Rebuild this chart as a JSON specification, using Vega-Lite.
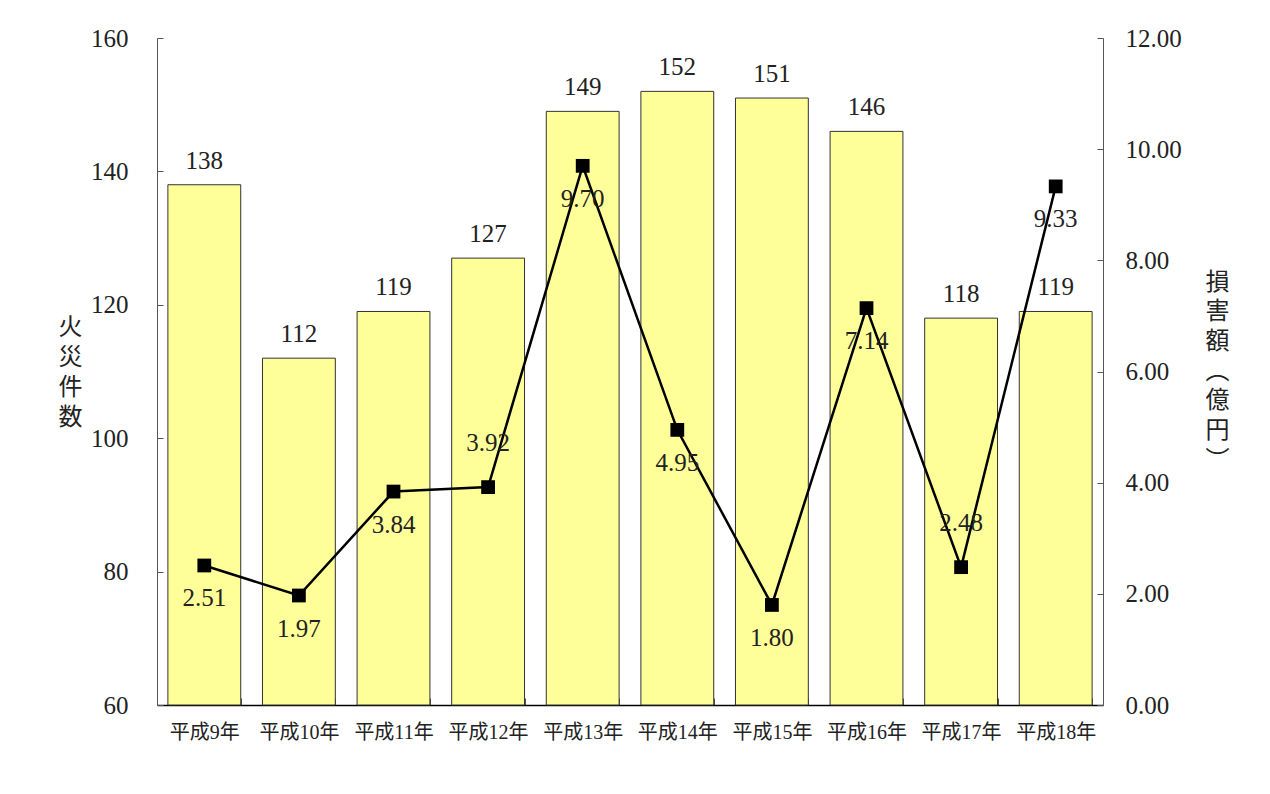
{
  "$schema": "https://vega.github.io/schema/vega-lite/v6.json",
  "autosize": "none",
  "width": 946,
  "height": 667,
  "padding": {"left": 157, "top": 38, "right": 167, "bottom": 89},
  "background": "white",
  "config": {
    "view": {"stroke": null},
    "font": "Liberation Serif, Noto Sans CJK JP",
    "axis": {"labelColor": "#222", "titleColor": "#222", "grid": false, "domainColor": "#555", "tickColor": "#555"}
  },
  "data": {
    "values": [
      {"year": "平成9年", "fires": 138, "damage": 2.51},
      {"year": "平成10年", "fires": 112, "damage": 1.97},
      {"year": "平成11年", "fires": 119, "damage": 3.84},
      {"year": "平成12年", "fires": 127, "damage": 3.92},
      {"year": "平成13年", "fires": 149, "damage": 9.70},
      {"year": "平成14年", "fires": 152, "damage": 4.95},
      {"year": "平成15年", "fires": 151, "damage": 1.80},
      {"year": "平成16年", "fires": 146, "damage": 7.14},
      {"year": "平成17年", "fires": 118, "damage": 2.48},
      {"year": "平成18年", "fires": 119, "damage": 9.33}
    ]
  },
  "encoding": {
    "x": {
      "field": "year", "type": "nominal", "sort": null,
      "scale": {"paddingInner": 0.23, "paddingOuter": 0.115},
      "axis": {
        "title": null, "labelAngle": 0, "labelFontSize": 20, "labelPadding": 24,
        "tickSize": -7, "tickBand": "extent", "domainColor": "#000", "domainWidth": 1.5,
        "tickColor": "#555", "labelFont": "Liberation Serif, Noto Sans CJK JP"
      }
    }
  },
  "layer": [
    {
      "layer": [
        {
          "mark": {"type": "bar", "fill": "#FFFF99", "stroke": "#333", "strokeWidth": 1},
          "encoding": {
            "y": {
              "field": "fires", "type": "quantitative",
              "scale": {"domain": [60, 160], "zero": false, "nice": false},
              "axis": {
                "title": ["火", "災", "件", "数"], "titleAngle": 0, "titleFontSize": 24, "titleFontWeight": "normal",
                "titleLineHeight": 30, "titleAlign": "center", "titleBaseline": "middle", "titleX": -87, "titleY": 289,
                "values": [60, 80, 100, 120, 140, 160], "labelFontSize": 25, "labelPadding": 35, "tickSize": -6
              }
            },
            "y2": {"datum": 60}
          }
        },
        {
          "mark": {"type": "text", "dy": -24, "fontSize": 25, "color": "#222"},
          "encoding": {
            "y": {"field": "fires", "type": "quantitative"},
            "text": {"field": "fires", "type": "quantitative"}
          }
        }
      ]
    },
    {
      "layer": [
        {
          "mark": {"type": "line", "color": "#000", "strokeWidth": 2.5},
          "encoding": {
            "y": {
              "field": "damage", "type": "quantitative",
              "scale": {"domain": [0, 12], "nice": false},
              "axis": {
                "title": ["損", "害", "額", "︵", "億", "円", "︶"], "titleAngle": 0, "titleFontSize": 24, "titleFontWeight": "normal",
                "titleLineHeight": 29.7, "titleAlign": "center", "titleBaseline": "middle", "titleX": 114, "titleY": 244,
                "titleFont": "Noto Sans CJK JP",
                "values": [0, 2, 4, 6, 8, 10, 12], "format": ".2f", "labelFontSize": 25, "labelPadding": 28, "tickSize": -6
              }
            }
          }
        },
        {
          "mark": {"type": "point", "shape": "square", "filled": true, "color": "#000", "size": 190, "opacity": 1},
          "encoding": {
            "y": {"field": "damage", "type": "quantitative"}
          }
        },
        {
          "transform": [{"filter": {"not": {"field": "year", "oneOf": ["平成12年", "平成17年"]}}}],
          "mark": {"type": "text", "dy": 33, "fontSize": 25, "color": "#222"},
          "encoding": {
            "y": {"field": "damage", "type": "quantitative"},
            "text": {"field": "damage", "type": "quantitative", "format": ".2f"}
          }
        },
        {
          "transform": [{"filter": {"field": "year", "oneOf": ["平成12年", "平成17年"]}}],
          "mark": {"type": "text", "dy": -44, "fontSize": 25, "color": "#222"},
          "encoding": {
            "y": {"field": "damage", "type": "quantitative"},
            "text": {"field": "damage", "type": "quantitative", "format": ".2f"}
          }
        }
      ]
    }
  ],
  "resolve": {"scale": {"y": "independent"}}
}
